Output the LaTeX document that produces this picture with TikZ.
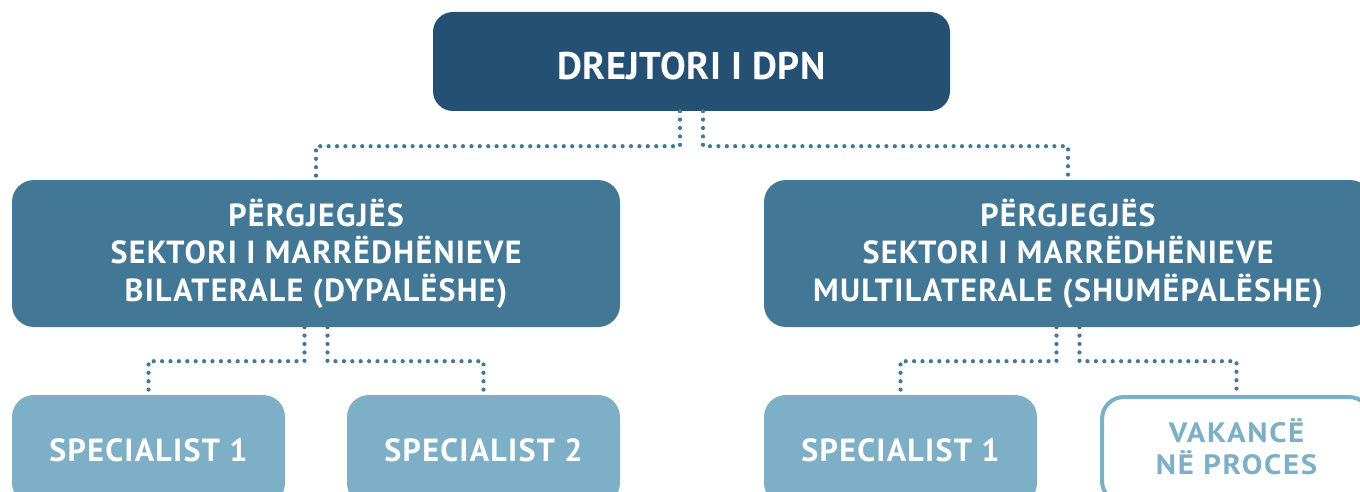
\documentclass[tikz,border=0pt]{standalone}
\usepackage{fontspec}
\setmainfont{PT Sans}
\newfontfamily\topfont[LetterSpace=1]{PT Sans}
\newfontfamily\boxfont[LetterSpace=4]{PT Sans}
\newfontfamily\vacfont[LetterSpace=6,FakeStretch=1.1]{PT Sans}
\definecolor{cTop}{HTML}{245073}
\definecolor{cMid}{HTML}{427796}
\definecolor{cLow}{HTML}{7DAFC7}
\tikzset{
  box/.style={rounded corners=22pt, inner sep=0pt, align=center, text=white,
    font=\boxfont\bfseries\fontsize{32}{37.5}\selectfont},
  topbox/.style={box, fill=cTop, minimum width=517pt, minimum height=99pt,
    rounded corners=20pt, font=\topfont\bfseries\fontsize{38.5}{44}\selectfont,
    text height=37pt, text depth=0pt},
  midbox/.style={box, fill=cMid, minimum width=608pt, minimum height=147pt},
  lowbox/.style={box, fill=cLow, minimum width=273pt, minimum height=110pt,
    text height=23pt, text depth=0pt},
  vacbox/.style={box, draw=cLow, line width=4pt, fill=white, text=cLow,
    minimum width=269pt, minimum height=106pt, text depth=6pt,
    font=\vacfont\bfseries\fontsize{28}{32}\selectfont},
  dotline/.style={draw=cMid, line width=4.2pt, line cap=round,
    dash pattern=on 0pt off 8.4pt}
}
\begin{document}
\begin{tikzpicture}[x=1pt,y=-1pt]
\useasboundingbox (0,0) rectangle (1360,492);
\clip (0,0) rectangle (1360,492);
\node[topbox] (top) at (691.5,61.5) {DREJTORI I DPN};
\node[midbox] (midL) at (316,253.5) {PËRGJEGJËS\\SEKTORI I MARRËDHËNIEVE\\BILATERALE (DYPALËSHE)};
\node[midbox] (midR) at (1068,253.5) {PËRGJEGJËS\\SEKTORI I MARRËDHËNIEVE\\MULTILATERALE (SHUMËPALËSHE)};
\node[lowbox] (s1) at (148.5,450) {SPECIALIST 1};
\node[lowbox] (s2) at (483.5,450) {SPECIALIST 2};
\node[lowbox] (s3) at (900.5,450) {SPECIALIST 1};
\node[vacbox] (vac) at (1236.5,450) {VAKANCË\\NË PROCES};
\draw[dotline] ([xshift=-11.5pt]top.south) -- ++(0,35) -| (midL.north);
\draw[dotline] ([xshift=11.5pt]top.south) -- ++(0,35) -| (midR.north);
\draw[dotline] ([xshift=-11.5pt]midL.south) -- ++(0,34) -| (s1.north);
\draw[dotline] ([xshift=11.5pt]midL.south) -- ++(0,34) -| (s2.north);
\draw[dotline] ([xshift=-11.5pt]midR.south) -- ++(0,34) -| (s3.north);
\draw[dotline] ([xshift=11.5pt]midR.south) -- ++(0,34) -| (vac.north);
\end{tikzpicture}
\end{document}
